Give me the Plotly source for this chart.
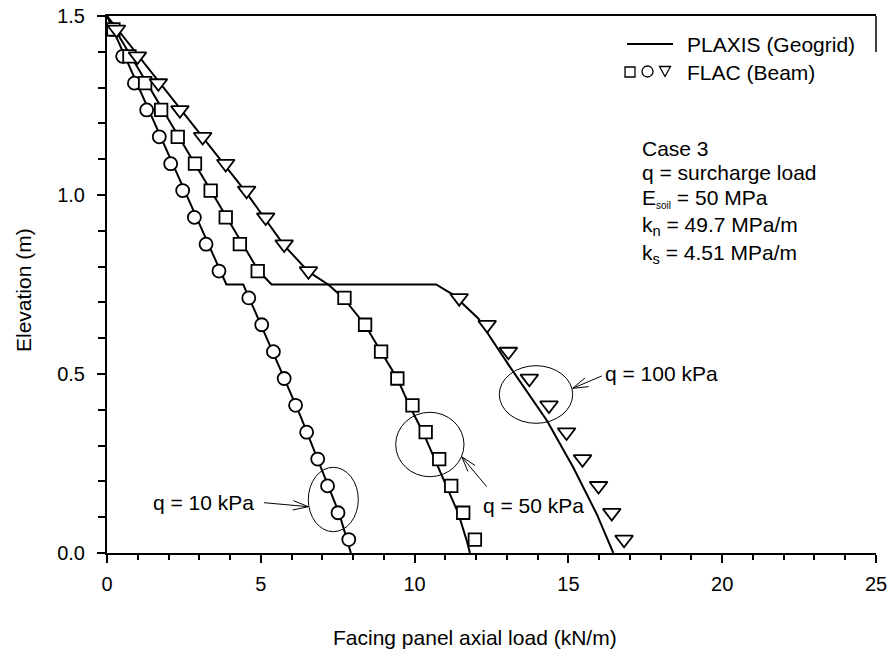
import math
import plotly.graph_objects as go

# ---------------- data ----------------
elev_flac = [1.4625, 1.3875, 1.3125, 1.2375, 1.1625, 1.0875, 1.0125, 0.9375, 0.8625, 0.7875,
             0.7125, 0.6375, 0.5625, 0.4875, 0.4125, 0.3375, 0.2625, 0.1875, 0.1125, 0.0375]
flac_q10 = [0.15, 0.51, 0.89, 1.29, 1.70, 2.07, 2.46, 2.84, 3.22, 3.64,
            4.61, 5.03, 5.41, 5.76, 6.13, 6.49, 6.85, 7.17, 7.51, 7.86]
flac_q50 = [0.21, 0.73, 1.24, 1.76, 2.30, 2.86, 3.37, 3.86, 4.32, 4.90,
            7.72, 8.39, 8.91, 9.44, 9.93, 10.36, 10.80, 11.19, 11.58, 11.96]
flac_q100 = [0.31, 0.99, 1.67, 2.37, 3.11, 3.86, 4.54, 5.16, 5.76, 6.55,
             11.45, 12.36, 13.05, 13.73, 14.37, 14.94, 15.46, 15.98, 16.41, 16.81]

plaxis_q10_x = [0, 3.88, 4.43, 4.95, 5.60, 6.30, 6.95, 7.55, 7.93]
plaxis_q10_y = [1.5, 0.75, 0.75, 0.65, 0.52, 0.38, 0.24, 0.11, 0.0]
plaxis_q50_x = [0, 4.92, 5.35, 7.19, 7.70, 8.39, 8.91, 9.44, 9.83, 10.28, 10.66, 11.04, 11.42, 11.69, 11.80]
plaxis_q50_y = [1.5, 0.789, 0.75, 0.75, 0.711, 0.637, 0.562, 0.487, 0.412, 0.336, 0.261, 0.186, 0.111, 0.036, 0.0]
plaxis_q100_x = [0, 2.40, 4.50, 5.75, 6.55, 7.19, 10.70, 11.26, 12.07, 12.45, 13.10, 14.30, 15.16, 15.92, 16.46]
plaxis_q100_y = [1.5, 1.24, 1.01, 0.86, 0.786, 0.75, 0.75, 0.721, 0.655, 0.604, 0.52, 0.37, 0.239, 0.109, 0.0]

x_ticks = [0, 5, 10, 15, 20, 25]
y_ticks = [0.0, 0.5, 1.0, 1.5]

# ---------------- layout geometry (pixels) ----------------
W, H = 888, 652
L, R, T, B = 107, 876, 16, 553
XMAX, YMAX = 25.0, 1.5
FONT = "Liberation Sans, Arial, sans-serif"
FS = 21


def dx(px):
    return (px - L) / (R - L) * XMAX


def dy(py):
    return (B - py) / (B - T) * YMAX


def ppx(px):
    return (px - L) / (R - L)


def ppy(py):
    return (B - py) / (B - T)


fig = go.Figure()

line_style = dict(color="black", width=2)
for xs, ys in [(plaxis_q10_x, plaxis_q10_y), (plaxis_q50_x, plaxis_q50_y), (plaxis_q100_x, plaxis_q100_y)]:
    fig.add_trace(go.Scatter(x=xs, y=ys, mode="lines", line=line_style, showlegend=False, hoverinfo="skip"))

mk_line = dict(color="black", width=1.8)
fig.add_trace(go.Scatter(x=flac_q10, y=elev_flac, mode="markers", showlegend=False,
                         marker=dict(symbol="circle", size=13, color="white", line=mk_line)))
fig.add_trace(go.Scatter(x=flac_q50, y=elev_flac, mode="markers", showlegend=False,
                         marker=dict(symbol="square", size=12.5, color="white", line=mk_line)))
fig.add_trace(go.Scatter(x=flac_q100, y=elev_flac, mode="markers", showlegend=False,
                         marker=dict(symbol="triangle-down", size=15.5, color="white", line=mk_line)))

shapes = []
annotations = []

# ellipses (pixel bounding boxes)
for (x0, x1, y0, y1) in [(308.3, 358.3, 467.3, 531.7), (395.7, 464.0, 412.3, 476.7), (499.3, 572.7, 365.7, 423.3)]:
    shapes.append(dict(type="circle", xref="x", yref="y", x0=dx(x0), x1=dx(x1), y0=dy(y1), y1=dy(y0),
                       line=dict(color="black", width=1)))

# arrows (tail -> head) in pixels with open V heads
for (tx, ty, hx, hy) in [(264.0, 502.7, 308.3, 506.7), (486.7, 486.7, 461.7, 456.7), (601.7, 376.0, 572.7, 388.3)]:
    ang = math.atan2(ty - hy, tx - hx)
    ln, spread = 16, math.radians(17)
    b1 = (hx + ln * math.cos(ang + spread), hy + ln * math.sin(ang + spread))
    b2 = (hx + ln * math.cos(ang - spread), hy + ln * math.sin(ang - spread))
    path = (f"M {dx(tx)},{dy(ty)} L {dx(hx)},{dy(hy)} "
            f"M {dx(b1[0])},{dy(b1[1])} L {dx(hx)},{dy(hy)} L {dx(b2[0])},{dy(b2[1])}")
    shapes.append(dict(type="path", xref="x", yref="y", path=path, line=dict(color="black", width=1)))

# right border stub at top
shapes.append(dict(type="line", xref="paper", yref="paper", x0=1, x1=1, y0=1, y1=ppy(52),
                   line=dict(color="black", width=1.5)))

# legend glyphs
shapes.append(dict(type="line", xref="paper", yref="paper", x0=ppx(627), x1=ppx(673), y0=ppy(44), y1=ppy(44),
                   line=dict(color="black", width=2)))
shapes.append(dict(type="rect", xref="paper", yref="paper", x0=ppx(625), x1=ppx(635), y0=ppy(77), y1=ppy(67),
                   line=dict(color="black", width=1.3)))
shapes.append(dict(type="circle", xref="paper", yref="paper", x0=ppx(642), x1=ppx(653), y0=ppy(77), y1=ppy(66),
                   line=dict(color="black", width=1.3)))
shapes.append(dict(type="path", xref="paper", yref="paper",
                   path=f"M {ppx(659.5)},{ppy(66.5)} L {ppx(670.5)},{ppy(66.5)} L {ppx(665)},{ppy(76.5)} Z",
                   line=dict(color="black", width=1.3)))


def txt(text, px, py, size=FS, xanchor="left"):
    annotations.append(dict(text=text, xref="paper", yref="paper", x=ppx(px), y=ppy(py),
                            xanchor=xanchor, yanchor="middle", showarrow=False, borderpad=0,
                            font=dict(family=FONT, size=size, color="black")))


txt("PLAXIS (Geogrid)", 686, 44.5)
txt("FLAC (Beam)", 686, 72)

txt("Case 3", 641, 148.5)
txt("q = surcharge load", 641, 172)
txt("E<sub><span style='font-size:10px'>soil</span></sub> = 50 MPa", 641, 198)
txt("k<sub>n</sub> = 49.7 MPa/m", 641, 226)
txt("k<sub>s</sub> = 4.51 MPa/m", 641, 254)

txt("q = 10 kPa", 151.5, 502.7)
txt("q = 50 kPa", 482, 505)
txt("q = 100 kPa", 604, 373)

# axis titles
txt("Facing panel axial load (kN/m)", 475, 637, size=21, xanchor="center")
annotations.append(dict(text="Elevation (m)", xref="paper", yref="paper", x=ppx(23), y=ppy(290),
                        xanchor="center", yanchor="middle", textangle=-90, showarrow=False,
                        font=dict(family=FONT, size=21, color="black")))

axis_common = dict(showgrid=False, zeroline=False, showline=True, linecolor="black", linewidth=2,
                   ticks="outside", tickcolor="black", tickwidth=1.5, ticklen=8, automargin=False,
                   tickfont=dict(family=FONT, size=20, color="black"))

fig.update_layout(
    width=W, height=H,
    margin=dict(l=L, r=W - R, t=T, b=H - B, pad=0, autoexpand=False),
    paper_bgcolor="white", plot_bgcolor="white",
    showlegend=False,
    xaxis=dict(range=[0, XMAX], tickvals=x_ticks, ticktext=[str(v) for v in x_ticks],
               mirror=True, ticklabelstandoff=4,
               minor=dict(dtick=1, ticks="outside", ticklen=5, tickcolor="black", tickwidth=1.5),
               **axis_common),
    yaxis=dict(range=[0, YMAX], tickvals=y_ticks, ticktext=[f"{v:.1f}" for v in y_ticks],
               ticklabelstandoff=8,
               minor=dict(dtick=0.1, ticks="outside", ticklen=7, tickcolor="black", tickwidth=1.5),
               **axis_common),
    shapes=shapes,
    annotations=annotations,
)

fig.write_html("out.html")
